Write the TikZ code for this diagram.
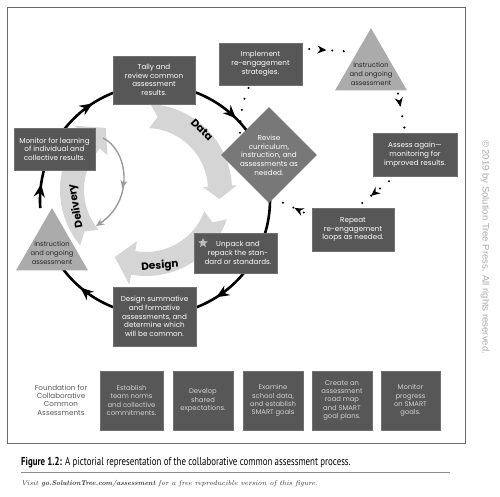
\documentclass[tikz,border=0pt]{standalone}
\usepackage{fontspec}
\newfontfamily\gfont{Poppins}
\newfontfamily\capfont[FakeStretch=0.77]{PT Sans}
\newfontfamily\cpfont{Liberation Sans}
\usetikzlibrary{shapes.geometric,calc,arrows.meta,decorations.markings}
\definecolor{boxgray}{HTML}{575757}
\definecolor{boxedge}{HTML}{707070}
\definecolor{diagray}{HTML}{787878}
\definecolor{trigray}{HTML}{ABABAB}
\definecolor{bandgray}{HTML}{D5D5D5}
\definecolor{thingray}{HTML}{9A9A9A}
\definecolor{framegray}{HTML}{6A6A6A}
\definecolor{cpgray}{HTML}{AAAAAA}
\definecolor{footgray}{HTML}{D2D2D2}
\definecolor{stargray}{HTML}{BDBDBD}
% tail angle, head base angle, tip angle, wing outer radius, wing inner radius
\newcommand\ccaband[5]{%
  \pgfmathsetmacro\ccanotch{#1+6}%
  \fill[bandgray] ($(ic)+(#1:86)$) arc[start angle=#1, end angle=#2, radius=86]
    -- ($(ic)+(#2:#4)$) -- ($(ic)+(#3:74)$) -- ($(ic)+(#2:#5)$) -- ($(ic)+(#2:62)$)
    arc[start angle=#2, end angle=#1, radius=62] -- ($(ic)+(\ccanotch:74)$) -- cycle;}
\begin{document}
\begin{tikzpicture}[x=1pt,y=-1pt,
  box/.style={draw=boxedge, line width=0.5pt, fill=boxgray, text=white, align=center, inner sep=0pt,
    font=\gfont\fontsize{7.2}{8.7}\selectfont},
  foot/.style={draw=boxedge, line width=0.5pt, fill=boxgray, text=footgray, align=center, inner sep=0pt,
    minimum height=59pt, font=\gfont\fontsize{6.8}{8.3}\selectfont},
  tri/.style={regular polygon, regular polygon sides=3, fill=trigray, inner sep=0pt, minimum size=83pt},
  tritext/.style={align=center, text=black!85, inner sep=0pt, font=\gfont\fontsize{6.7}{8.7}\selectfont},
  bandlabel/.style={font=\gfont\bfseries\fontsize{10.5}{12}\selectfont, inner sep=0pt},
  cyc/.style={line width=2.6pt, black},
  cycarrow/.style={postaction={decorate}, decoration={markings, mark=at position #1 with {\arrow{Stealth[length=13pt,width=11pt]}}}},
  dotline/.style={line width=2.3pt, line cap=round, dash pattern=on 0pt off 11.5pt},
  dotarrow/.style={postaction={decorate}, decoration={markings, mark=at position #1 with {\arrow{Stealth[length=9pt,width=8pt]}}}},
]
\useasboundingbox (0,0) rectangle (500,497);
\fill[white] (0,0) rectangle (500,497);
\draw[framegray, line width=0.8pt] (7,7) rectangle (465,443);

\coordinate (ic) at (146,190);
\coordinate (cc) at (155,200);

% inner grey bands
\ccaband{273}{357}{367}{91}{57}
\ccaband{20}{100}{115}{96}{52}
\ccaband{140}{222}{237}{96}{52}
\node[bandlabel, rotate=-45] (ldata) at (202,130) {Data};
\node[bandlabel, rotate=4] (ldesign) at (160,266) {Design};
\node[bandlabel, rotate=100] (ldelivery) at (76,206) {Delivery};

% thin grey loop
\coordinate (gl1) at (103,138);
\coordinate (gl2) at (96,226);
\draw[thingray, line width=1.4pt, -{Stealth[length=8pt,width=7pt]},
  postaction={decorate}, decoration={markings, mark=at position 0.55 with {\arrow{Stealth[length=8pt,width=7pt]}}}]
  (gl1) .. controls (128,150) and (135,200) .. (gl2);

% main cycle arcs (centre cc, radius 115)
\draw[cyc, cycarrow=0.6] ($(cc)+(176:115)$) arc[start angle=176, end angle=196, radius=115];
\draw[cyc, cycarrow=0.72] ($(cc)+(204:115)$) arc[start angle=204, end angle=250, radius=115];
\draw[cyc, cycarrow=0.75] ($(cc)+(290:115)$) arc[start angle=290, end angle=323, radius=115];
\draw[cyc] ($(cc)+(0:115)$) arc[start angle=0, end angle=18, radius=115];
\draw[cyc, cycarrow=0.62] ($(cc)+(38:115)$) arc[start angle=38, end angle=70, radius=115];
\draw[cyc, cycarrow=0.6] ($(cc)+(110:115)$) arc[start angle=110, end angle=144, radius=115];

% nodes
\node[box, minimum width=82pt, minimum height=48pt] (tally) at (154,80) {Tally and\\review common\\assessment\\results.};
\node[box, minimum width=83pt, minimum height=42pt] (impl) at (260.5,64) {Implement\\re-engagement\\strategies.};
\node[tri] (triR) at (371,69.6) {};
\node[tritext] (triRt) at (371,74) {Instruction\\and ongoing\\assessment};
\node[diamond, fill=diagray, minimum width=96pt, minimum height=96pt, inner sep=0pt] (revise) at (269,155) {};
\node[box, draw=none, fill=none] (reviset) at (269,155) {Revise\\curriculum,\\instruction, and\\assessments as\\needed.};
\node[box, minimum width=84pt, minimum height=43pt] (assess) at (415,154.5) {Assess again—\\monitoring for\\improved results.};
\node[box, minimum width=82pt, minimum height=43pt] (repeat) at (353,229.5) {Repeat\\re-engagement\\loops as needed.};
\node[box, minimum width=83pt, minimum height=40pt] (unpack) at (235.5,253) {};
\node[box, draw=none, fill=none] (unpackt) at (238,253) {Unpack and\\repack the stan-\\dard or standards.};
\node[star, star points=5, star point ratio=2.2, fill=stargray, minimum size=10pt, inner sep=0pt] (ustar) at (203,243) {};
\node[box, minimum width=83pt, minimum height=59pt] (design) at (154.5,316.5) {Design summative\\and formative\\assessments, and\\determine which\\will be common.};
\node[tri] (triL) at (52,249.5) {};
\node[tritext] (triLt) at (52,253) {Instruction\\and ongoing\\assessment};
\node[box, minimum width=81pt, minimum height=42pt] (monitor) at (54.5,149) {Monitor for learning\\of individual and\\collective results.};

% re-engagement dotted loop
\draw[dotline] ($(revise.west)!0.42!(revise.north)+(-1,-2)$) to[bend left=12] ($(impl.south)+(-10,-2)$);
\draw[dotline, dotarrow=0.42] ($(impl.east)+(7,-15)$) -- ($(triR.center)+(-21,-18)$);
\draw[dotline, dotarrow=0.35] ($(triR.center)+(27,24)$) -- ($(assess.north)+(-10,-2)$);
\draw[dotline, dotarrow=0.62] ($(assess.south)+(-26,5)$) -- ($(repeat.north)+(7,-3)$);
\draw[dotline, dotarrow=0.42] ($(repeat.west)+(-8,-17)$) -- ($(revise.south)+(13,-1)$);

% foundation row
\node[align=center, inner sep=0pt, text=black!65, font=\gfont\fontsize{7.2}{8.3}\selectfont] (found) at (61,400) {Foundation for\\Collaborative\\Common\\Assessments};
\node[foot, minimum width=63pt] (f1) at (131.5,400.5) {Establish\\team norms\\and collective\\commitments.};
\node[foot, minimum width=60pt] (f2) at (203,400.5) {Develop\\shared\\expectations.};
\node[foot, minimum width=60pt] (f3) at (273,400.5) {Examine\\school data,\\and establish\\SMART goals};
\node[foot, minimum width=60pt] (f4) at (342,400.5) {Create an\\assessment\\road map\\and SMART\\goal plans.};
\node[foot, minimum width=59pt] (f5) at (410.5,400.5) {Monitor\\progress\\on SMART\\goals.};

% copyright
\node[rotate=-90, inner sep=0pt, text=cpgray, font=\cpfont\fontsize{9.5}{11}\selectfont] (copy) at (485,247) {© 2019 by Solution Tree Press. All rights reserved.};

% caption
\node[anchor=west, inner sep=0pt, font=\capfont\fontsize{11.5}{13}\selectfont] (cap) at (21,463) {\textbf{Figure 1.2:} A pictorial representation of the collaborative common assessment process.};
\coordinate (r1) at (21,472);
\coordinate (r2) at (450,472);
\draw[black!45, line width=0.9pt] (r1) -- (r2);
\node[anchor=west, inner sep=0pt, text=black!80, font=\itshape\fontsize{7}{9}\selectfont] (visit) at (21,484) {Visit \textbf{go.SolutionTree.com/assessment} for a free reproducible version of this figure.};
\end{tikzpicture}
\end{document}
